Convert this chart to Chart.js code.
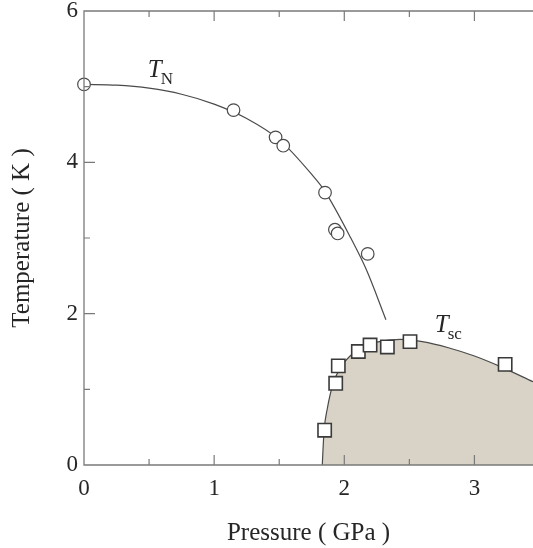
<!DOCTYPE html>
<html>
<head>
<meta charset="utf-8">
<script src="https://cdn.jsdelivr.net/npm/chart.js@4.4.1/dist/chart.umd.min.js"></script>
<style>
  html, body { margin: 0; padding: 0; background: #fff; }
  #wrap { width: 533px; height: 548px; position: relative; }
</style>
</head>
<body>
<div id="wrap"><canvas id="phase"></canvas></div>
<script>
const tnPressure = [0, 1.149, 1.472, 1.531, 1.852, 1.928, 1.949, 2.18];
const tnTemp     = [5.03, 4.69, 4.33, 4.22, 3.60, 3.11, 3.06, 2.79];

const tscPressure = [1.849, 1.934, 1.954, 2.108, 2.198, 2.331, 2.505, 3.236];
const tscTemp     = [0.46, 1.08, 1.31, 1.50, 1.585, 1.56, 1.63, 1.33];

// courbe T_N (trait guide)
const tnCurveP = [0, 0.25, 0.5, 0.75, 1.0, 1.25, 1.5, 1.75, 1.85, 2.05, 2.17, 2.32];
const tnCurveT = [5.03, 5.02, 4.98, 4.9, 4.77, 4.58, 4.3, 3.84, 3.62, 3.0, 2.58, 1.92];

// courbe T_sc (dôme supraconducteur)
const tscCurveP = [1.831, 1.835, 1.845, 1.87, 1.915, 1.98, 2.07, 2.15, 2.25, 2.43, 2.6, 2.8, 3.0, 3.2, 3.45];
const tscCurveT = [0, 0.15, 0.46, 0.75, 1.08, 1.31, 1.48, 1.57, 1.625, 1.66, 1.63, 1.55, 1.44, 1.30, 1.10];

// étiquettes des courbes (position en coordonnées des données)
const curveLabels = [
  { main: 'T', sub: 'N',  p: 0.49,  t: 5.13 },
  { main: 'T', sub: 'sc', p: 2.695, t: 1.76 }
];

const xLabelValues = [0, 1, 2, 3];
const yLabelValues = [0, 2, 4, 6];

const pts = (xs, ys) => xs.map((x, i) => ({ x: x, y: ys[i] }));

const inkColor = '#4a4a4a';
const axisColor = '#7a7a7a';
const textColor = '#262626';
const serif = "'Liberation Serif', 'DejaVu Serif', serif";

// pas de marge automatique pour les étiquettes : zone de tracé fixée
const noPad = s => {
  s.paddingLeft = 0; s.paddingRight = 0;
  s.paddingTop = 0; s.paddingBottom = 0;
};

// cadre + graduations vers l'intérieur + étiquettes des courbes
const framePlugin = {
  id: 'frame',
  afterDatasetsDraw(chart) {
    const { ctx, chartArea: a, scales: { x, y } } = chart;
    ctx.save();
    ctx.strokeStyle = axisColor;
    ctx.lineWidth = 1.3;
    ctx.beginPath();
    ctx.moveTo(a.right + 2, a.top);
    ctx.lineTo(a.left, a.top);
    ctx.lineTo(a.left, a.bottom);
    ctx.lineTo(a.right + 2, a.bottom);
    ctx.stroke();

    ctx.lineWidth = 1.2;
    ctx.beginPath();
    for (let v = 0.5; v <= x.max; v += 0.5) {
      const px = x.getPixelForValue(v);
      const len = Number.isInteger(v) ? 10 : 6;
      ctx.moveTo(px, a.bottom); ctx.lineTo(px, a.bottom - len);
      ctx.moveTo(px, a.top); ctx.lineTo(px, a.top + len);
    }
    for (let v = 1; v < y.max; v += 1) {
      const py = y.getPixelForValue(v);
      const len = v % 2 === 0 ? 11 : 6;
      ctx.moveTo(a.left, py); ctx.lineTo(a.left + len, py);
    }
    ctx.stroke();

    ctx.fillStyle = textColor;
    ctx.textBaseline = 'alphabetic';
    curveLabels.forEach(l => {
      const px = x.getPixelForValue(l.p);
      const py = y.getPixelForValue(l.t);
      ctx.font = 'italic 25px ' + serif;
      ctx.fillText(l.main, px, py);
      const w = ctx.measureText(l.main).width;
      ctx.font = '17px ' + serif;
      ctx.fillText(l.sub, px + w - 1, py + 7);
    });
    ctx.restore();
  }
};

new Chart(document.getElementById('phase'), {
  type: 'scatter',
  data: {
    datasets: [
      {
        label: 'Tn mesures',
        data: pts(tnPressure, tnTemp),
        pointStyle: 'circle',
        pointRadius: 6.3,
        pointBackgroundColor: '#fff',
        pointBorderColor: inkColor,
        pointBorderWidth: 1.2,
        clip: false,
        order: 0
      },
      {
        label: 'Tsc mesures',
        data: pts(tscPressure, tscTemp),
        pointStyle: 'rect',
        pointRadius: 9.4,
        pointBackgroundColor: '#fff',
        pointBorderColor: '#3a3a3a',
        pointBorderWidth: 1.6,
        clip: false,
        order: 0
      },
      {
        label: 'Tn courbe',
        data: pts(tnCurveP, tnCurveT),
        showLine: true,
        borderColor: inkColor,
        borderWidth: 1.2,
        pointRadius: 0,
        cubicInterpolationMode: 'monotone',
        fill: false,
        order: 1
      },
      {
        label: 'Tsc courbe',
        data: pts(tscCurveP, tscCurveT),
        showLine: true,
        borderColor: inkColor,
        borderWidth: 1.2,
        backgroundColor: '#d8d3c6',
        pointRadius: 0,
        cubicInterpolationMode: 'monotone',
        fill: 'origin',
        order: 2
      }
    ]
  },
  options: {
    responsive: true,
    maintainAspectRatio: false,
    animation: false,
    layout: { autoPadding: false, padding: { top: 11, right: 0, left: 0, bottom: 0 } },
    plugins: {
      legend: { display: false },
      tooltip: { enabled: false }
    },
    scales: {
      x: {
        type: 'linear',
        min: 0,
        max: 3.45,
        grid: { display: false, drawTicks: false },
        border: { display: false },
        afterBuildTicks: s => { s.ticks = xLabelValues.map(v => ({ value: v })); },
        ticks: {
          padding: 10,
          color: textColor,
          font: { family: serif, size: 23 },
          callback: v => String(v)
        },
        title: {
          display: true,
          text: 'Pressure ( GPa )',
          color: textColor,
          font: { family: serif, size: 25 },
          padding: { top: 0, bottom: 0 }
        },
        afterFit: s => { s.height = 83; noPad(s); }
      },
      y: {
        type: 'linear',
        min: 0,
        max: 6,
        grid: { display: false, drawTicks: false },
        border: { display: false },
        afterBuildTicks: s => { s.ticks = yLabelValues.map(v => ({ value: v })); },
        ticks: {
          padding: 6,
          color: textColor,
          font: { family: serif, size: 23 },
          callback: v => String(v)
        },
        title: {
          display: true,
          text: 'Temperature ( K )',
          color: textColor,
          font: { family: serif, size: 25 },
          padding: { top: 7, bottom: 0 }
        },
        afterFit: s => { s.width = 84; noPad(s); }
      }
    }
  },
  plugins: [framePlugin]
});
</script>
</body>
</html>
